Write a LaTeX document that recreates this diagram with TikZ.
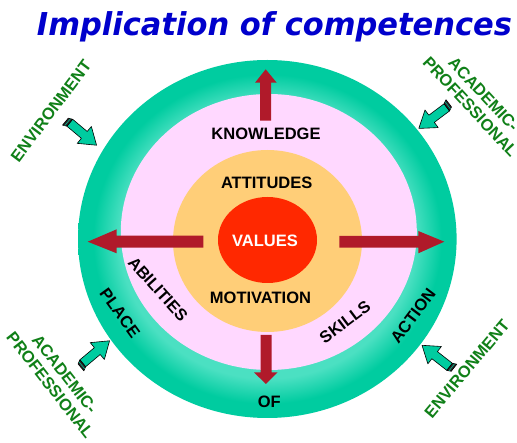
\documentclass[tikz,border=0pt]{standalone}
\usepackage{fontspec}
\usepackage{graphicx}
\setmainfont{Liberation Sans}[BoldFont={Liberation Sans Bold}]
\newfontfamily\titlefont{DejaVu Sans}[BoldItalicFont={DejaVu Sans Bold Oblique}, BoldFont={DejaVu Sans Bold}, ItalicFont={DejaVu Sans Oblique}]
\definecolor{tealD}{RGB}{0,204,160}
\definecolor{tealL}{RGB}{75,224,194}
\definecolor{pinkF}{RGB}{255,216,255}
\definecolor{orangeF}{RGB}{255,206,120}
\definecolor{redF}{RGB}{255,40,0}
\definecolor{darkred}{RGB}{176,26,42}
\definecolor{titleblue}{RGB}{0,0,204}
\definecolor{gtext}{RGB}{16,128,24}
\pgfdeclareradialshading{tealring}{\pgfpoint{0bp}{0bp}}{color(0bp)=(tealL); color(19.5bp)=(tealL); color(23bp)=(tealD); color(25bp)=(tealD); color(50bp)=(tealD)}
\begin{document}
\begin{tikzpicture}[x=1pt,y=-1pt,
  lab/.style={font=\fontsize{16.5}{18.3}\selectfont\bfseries, inner sep=0pt},
  glab/.style={lab, text=gtext, align=center},
  redarrow/.style={fill=darkred},
  garrow/.pic={
    \filldraw[fill=tealD, draw=black, line width=0.6pt, line join=round]
      (-16,-4.5) -- (3,-4.5) -- (3,-11) -- (19,0) -- (3,11) -- (3,4.5) -- (-16,4.5) -- cycle;
    \filldraw[fill=black!85, draw=black, line width=0.6pt, line join=round]
      (-16,-4.5) -- (-16,4.5) -- (-20,6.5) -- (-20,-2.5) -- cycle;
    \draw[tealD, line width=0.5pt] (-18,-3.5) -- (-18,5.5);
  }]
\useasboundingbox (0,0) rectangle (517,443);
\fill[white] (0,0) rectangle (517,443);
% title
\node[font=\titlefont\fontsize{31.5}{36}\selectfont\bfseries\itshape, text=titleblue, anchor=base, inner sep=0pt] (title) at (274.5,36) {\resizebox{475pt}{\height}{Implication of competences}};
% circles
\path[shading=tealring] (267.3,239) ellipse [x radius=189.3, y radius=179];
\fill[pinkF] (268.8,232) ellipse [x radius=148, y radius=138];
\fill[orangeF] (267.5,241) ellipse [x radius=94.5, y radius=91];
\fill[redF] (267.5,240) ellipse [x radius=49.5, y radius=43];
% red arrows
\fill[redarrow] (260,120.7) -- (260,82.7) -- (255,82.7) -- (265.7,69.3) -- (276.7,82.7) -- (271,82.7) -- (271,120.7) -- cycle;
\fill[redarrow] (260.7,335) -- (260.7,372.3) -- (254,372.3) -- (265.8,384) -- (277.7,372.3) -- (271.7,372.3) -- (271.7,335) -- cycle;
\fill[redarrow] (339.3,236) -- (418.3,236) -- (418.3,231) -- (444.3,241.7) -- (418.3,253.3) -- (418.3,247.7) -- (339.3,247.7) -- cycle;
\fill[redarrow] (203.3,235.7) -- (116.7,235.7) -- (116.7,229.3) -- (87.7,241.7) -- (116.7,253.3) -- (116.7,247.7) -- (203.3,247.7) -- cycle;
% inner labels
\node[lab] (knowledge) at (266,134) {KNOWLEDGE};
\node[lab] (attitudes) at (266.7,183) {ATTITUDES};
\node[lab, text=white] (values) at (265,240.7) {VALUES};
\node[lab] (motivation) at (260.5,298) {MOTIVATION};
\node[lab] (of) at (269.3,401.7) {OF};
\node[lab, rotate=-48] (abilities) at (158,289) {ABILITIES};
\node[lab, rotate=-54] (place) at (120,313) {PLACE};
\node[lab, rotate=37] (skills) at (345,322) {SKILLS};
\node[lab, rotate=53] (action) at (413,316) {ACTION};
% outer labels
\node[glab, rotate=53] (envTL) at (51,111) {ENVIRONMENT};
\node[glab, rotate=50] (envBR) at (467,369) {ENVIRONMENT};
\node[glab, rotate=-47] (apTR) at (477,100.5) {ACADEMIC-\\PROFESSIONAL};
\node[glab, rotate=-52] (apBL) at (57.5,379.5) {ACADEMIC-\\PROFESSIONAL};
% green arrows
\pic[rotate=-40] at (82,133) {garrow};
\pic[rotate=217] at (434,117) {garrow};
\pic[rotate=40] at (95,353) {garrow};
\pic[rotate=142] at (437,357) {garrow};
\end{tikzpicture}
\end{document}
